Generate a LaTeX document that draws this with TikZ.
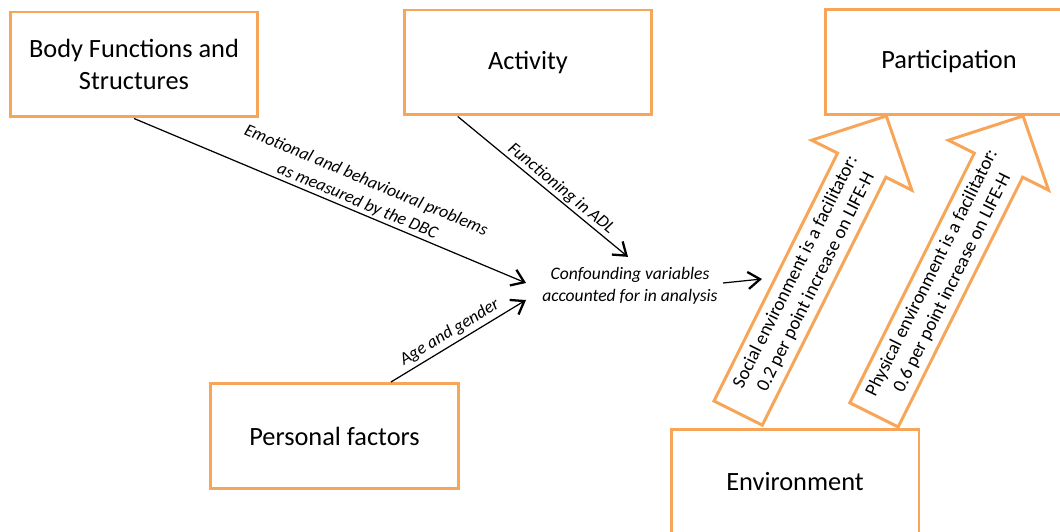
\documentclass[tikz,border=0pt]{standalone}
\usepackage{fontspec}
\setmainfont{Carlito}
\usetikzlibrary{arrows.meta,calc}
\definecolor{icforange}{RGB}{247,165,88}

\tikzset{
  icfbox/.style={draw=icforange, line width=1.7pt, minimum width=4.96cm, minimum height=2.1cm, align=center, font=\fontsize{15}{18}\selectfont},
  effect/.style={draw=icforange, line width=1.7pt, line join=miter},
  efftext/.style={align=center, inner sep=0pt, font=\fontsize{10.7}{13}\selectfont},
  lbl/.style={align=center, font=\itshape\fontsize{10}{12.8}\selectfont}
}

\begin{document}
\begin{tikzpicture}[x=0.02cm, y=0.02cm]
  \clip (0,0) rectangle (1060,531);
  \path          (134,466.5) node[icfbox] (body) {Body Functions and\\Structures} ;
  \path     (528,468.5)  node[icfbox] (act) {Activity} ;
  \path    (949,469) node[icfbox] (part) {Participation} ;
  \path     (334.5,95) node[icfbox] (pers) {Personal factors} ;
  \path     (795,49.5) node[icfbox] (env) {Environment} ;
  \path     (630,245) node[lbl, inner xsep=0.1cm, inner ysep=0pt] (conf) {Confounding variables\\accounted for in analysis} ;
  \coordinate (confout) at (762,252);
  \coordinate (tipsoc) at ($(part.south west)!0.25!(part.south east)$);
  \coordinate (tipphy) at ($(part.south west)!0.795!(part.south east)$);
  \begin{scope}[line width=0.7pt, -{Straight Barb[length=2.4mm, width=3.4mm, line width=1.3pt]}]
    \draw         (body.south) -- ($(conf.west)+(-11,3)$)
      node[lbl, pos=0.56, sloped, above=1pt, inner sep=0pt] {Emotional and behavioural problems\\as measured by the DBC};
    \draw         ($(act.south west)!0.22!(act.south east)$) -- ($(conf.north)+(-2,10)$)
      node[lbl, pos=0.57, sloped, above, inner sep=1pt] {Functioning in ADL};
    \draw         ($(pers.north west)!0.725!(pers.north east)$) -- ($(conf.west)+(-11,-14)$)
      node[lbl, pos=0.48, sloped, above, inner sep=2pt] {Age and gender};
    \draw ($(conf.east)+(0,3)$) -- (confout);
  \end{scope}
  \begin{scope}[shift={(tipsoc)}, rotate=63.5]
    \draw[effect] (0,0) -- (-55,56) -- (-55,27) -- (-332,27) -- (-332,-27) -- (-55,-27) -- (-55,-56) -- cycle;
    \path (-180,0) node[efftext, rotate=63.5] (social) {Social environment is a facilitator:\\0.2 per point increase on LIFE-H};
  \end{scope}
  \begin{scope}[shift={(tipphy)}, rotate=63.5]
    \draw[effect] (0,0) -- (-55,56) -- (-55,27) -- (-334,27) -- (-334,-27) -- (-55,-27) -- (-55,-56) -- cycle;
    \path (-181,0) node[efftext, rotate=63.5] (physical) {Physical environment is a facilitator:\\0.6 per point increase on LIFE-H};
  \end{scope}
\end{tikzpicture}
\end{document}
